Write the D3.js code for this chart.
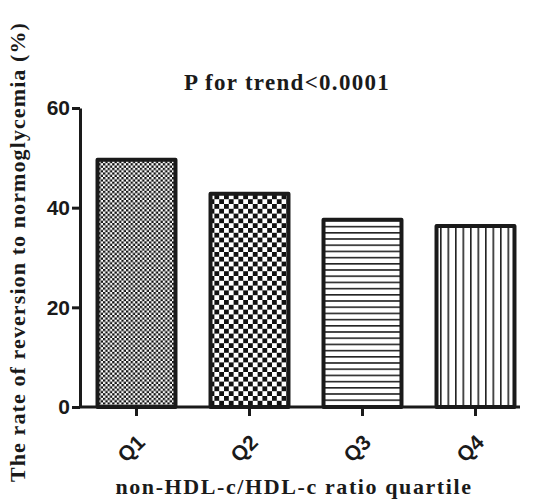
<!DOCTYPE html>
<html>
<head>
<meta charset="utf-8">
<script src="https://cdn.jsdelivr.net/npm/d3@7"></script>
<style>
  body { margin: 0; background: #fff; }
  svg { display: block; }
</style>
</head>
<body>
<svg id="chart"></svg>
<script>
var screen = {width: 533, height: 500};
var margins = {top: 108, right: 13, bottom: 93, left: 80};

var quartiles = ["Q1", "Q2", "Q3", "Q4"];
var rates = [49.6, 42.8, 37.6, 36.3];
var yTicks = [0, 20, 40, 60];
var patterns = ["fineCheck", "bigCheck", "hLines", "vLines"];

var svg = d3.select("#chart")
    .attr("width", screen.width)
    .attr("height", screen.height);

// fill patterns
var defs = svg.append("defs");

var p1 = defs.append("pattern").attr("id", "fineCheck")
    .attr("patternUnits", "userSpaceOnUse").attr("width", 4.6).attr("height", 4.6);
p1.append("rect").attr("width", 4.6).attr("height", 4.6).attr("fill", "#fff");
p1.append("rect").attr("width", 2.3).attr("height", 2.3).attr("fill", "#111");
p1.append("rect").attr("x", 2.3).attr("y", 2.3).attr("width", 2.3).attr("height", 2.3).attr("fill", "#111");

var p2 = defs.append("pattern").attr("id", "bigCheck")
    .attr("patternUnits", "userSpaceOnUse").attr("width", 9.6).attr("height", 9.6);
p2.append("rect").attr("width", 9.6).attr("height", 9.6).attr("fill", "#fff");
p2.append("rect").attr("width", 4.8).attr("height", 4.8).attr("fill", "#111");
p2.append("rect").attr("x", 4.8).attr("y", 4.8).attr("width", 4.8).attr("height", 4.8).attr("fill", "#111");

var p3 = defs.append("pattern").attr("id", "hLines")
    .attr("patternUnits", "userSpaceOnUse").attr("width", 10).attr("height", 6.2);
p3.append("rect").attr("width", 10).attr("height", 6.2).attr("fill", "#fff");
p3.append("rect").attr("y", 0).attr("width", 10).attr("height", 1.6).attr("fill", "#222");

var p4 = defs.append("pattern").attr("id", "vLines")
    .attr("patternUnits", "userSpaceOnUse").attr("width", 7.5).attr("height", 10);
p4.append("rect").attr("width", 7.5).attr("height", 10).attr("fill", "#fff");
p4.append("rect").attr("x", 0).attr("width", 1.6).attr("height", 10).attr("fill", "#222");

var xScale = d3.scaleBand()
    .domain(quartiles)
    .range([0, 452])
    .paddingInner(0.31)
    .paddingOuter(0.155);

var yScale = d3.scaleLinear()
    .domain([0, 60])
    .range([299, 0]);

var graph = svg.append("g")
    .attr("id", "graph")
    .attr("transform", "translate(" + margins.left + "," + margins.top + ")");

// bars
graph.selectAll(".bar")
    .data(rates)
    .enter()
    .append("rect")
    .attr("class", "bar")
    .attr("x", function(d, i) { return xScale(quartiles[i]); })
    .attr("y", function(d) { return yScale(d); })
    .attr("width", xScale.bandwidth())
    .attr("height", function(d) { return yScale(0) - yScale(d); })
    .attr("fill", function(d, i) { return "url(#" + patterns[i] + ")"; })
    .attr("stroke", "#1a1a1a")
    .attr("stroke-width", 4)
    .attr("stroke-linejoin", "round");

// y axis
var yAxis = d3.axisLeft(yScale).tickValues(yTicks).tickSize(8).tickPadding(2).tickSizeOuter(0);
var yg = graph.append("g").attr("class", "axis").call(yAxis);

// x axis
var xAxis = d3.axisBottom(xScale).tickSize(9).tickSizeOuter(0).tickFormat(function(d) { return d; });
var xg = graph.append("g").attr("class", "axis")
    .attr("transform", "translate(0," + yScale(0) + ")")
    .call(xAxis);
xg.select(".domain").attr("d", "M-1,0H440");

svg.selectAll(".axis path, .axis line")
    .attr("stroke", "#1a1a1a")
    .attr("stroke-width", 3);
svg.selectAll(".axis text")
    .attr("fill", "#1a1a1a")
    .style("font-family", "Liberation Sans, Arial, sans-serif")
    .style("font-weight", "bold")
    .style("font-size", "21px");

xg.selectAll("text")
    .attr("text-anchor", "end")
    .attr("dy", "0.35em")
    .attr("transform", "translate(-4,23) rotate(-45)");

// title
svg.append("text")
    .attr("x", 287)
    .attr("y", 90)
    .attr("text-anchor", "middle")
    .style("font-family", "Liberation Serif, Times New Roman, serif")
    .style("font-weight", "bold")
    .style("font-size", "23px")
    .style("letter-spacing", "1.3px")
    .attr("fill", "#1a1a1a")
    .text("P for trend<0.0001");

// x axis title
svg.append("text")
    .attr("x", 294)
    .attr("y", 494)
    .attr("text-anchor", "middle")
    .style("font-family", "Liberation Serif, Times New Roman, serif")
    .style("font-weight", "bold")
    .style("font-size", "22px")
    .style("letter-spacing", "1.6px")
    .attr("fill", "#1a1a1a")
    .text("non-HDL-c/HDL-c ratio quartile");

// y axis title
svg.append("text")
    .attr("transform", "translate(25,252) rotate(-90)")
    .attr("text-anchor", "middle")
    .style("font-family", "Liberation Serif, Times New Roman, serif")
    .style("font-weight", "bold")
    .style("font-size", "22px")
    .style("letter-spacing", "1.1px")
    .attr("fill", "#1a1a1a")
    .text("The rate of reversion to normoglycemia (%)");
</script>
</body>
</html>
